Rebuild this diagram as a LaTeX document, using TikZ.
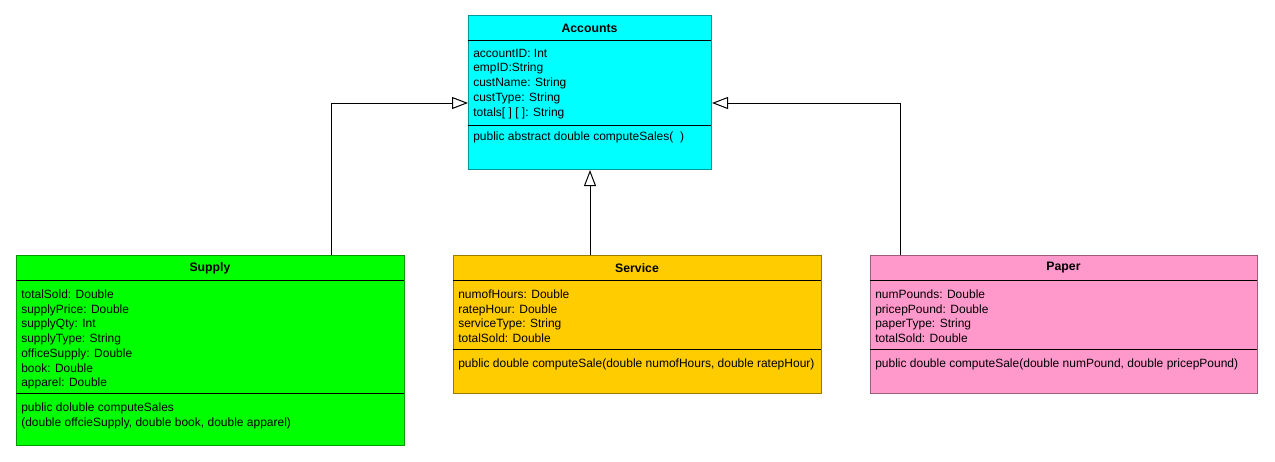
\documentclass[tikz,border=0pt]{standalone}
\usepackage{fontspec}
\setmainfont{Liberation Sans}
\usetikzlibrary{arrows.meta}
\definecolor{accfill}{RGB}{0,255,255}
\definecolor{supfill}{RGB}{0,255,0}
\definecolor{serfill}{RGB}{255,204,0}
\definecolor{papfill}{RGB}{255,153,204}
\begin{document}
\begin{tikzpicture}[x=0.75pt,y=0.75pt,yscale=-1,xscale=1,
            classbox/.style={rectangle,inner sep=0,line width=0.75pt,anchor=north west},
            classname/.style={font=\fontsize{9.2}{11}\selectfont\bfseries,inner sep=0},
            members/.style={font=\fontsize{9}{11.06}\selectfont,align=left,anchor=north west,inner sep=0},
            inherit/.style={line width=0.75pt,-{Triangle[open,length=12pt,width=9pt]}}]
            \useasboundingbox (0,0) rectangle (1275,461);
            \node[classbox,fill=accfill,draw=accfill!60!black,minimum width=182.25pt,minimum height=115.5pt] (accounts) at (468,15) {};
            \node[classname] (accname) at (589.5,28) {Accounts};
            \draw (468,40) -- (711,40);
            \node[members] (accattr) at (473,48.5) {accountID: Int\\empID:String\\custName: String\\custType: String\\totals[ ] [ ]: String};
            \draw (468,125) -- (711,125);
            \node[members] (accops) at (473,131.5) {public abstract double computeSales(\ \ )};
            \node[classbox,fill=supfill,draw=supfill!60!black,minimum width=291pt,minimum height=142.5pt] (supply) at (16,255) {};
            \node[classname] (supname) at (210,268) {Supply};
            \draw (16,280) -- (404,280);
            \node[members] (supattr) at (21,289.5) {totalSold: Double\\supplyPrice: Double\\supplyQty: Int\\supplyType: String\\officeSupply: Double\\book: Double\\apparel: Double};
            \draw (16,393) -- (404,393);
            \node[members] (supops) at (21,402.5) {public doluble computeSales\\(double offcieSupply, double book, double apparel)};
            \node[classbox,fill=serfill,draw=serfill!60!black,minimum width=276pt,minimum height=103.5pt] (service) at (453,255) {};
            \node[classname] (sername) at (637,268) {Service};
            \draw (453,280) -- (821,280);
            \node[members] (serattr) at (458,289.5) {numofHours: Double\\ratepHour: Double\\serviceType: String\\totalSold: Double};
            \draw (453,349) -- (821,349);
            \node[members] (serops) at (458,358.5) {public double computeSale(double numofHours, double ratepHour)};
            \node[classbox,fill=papfill,draw=papfill!60!black,minimum width=290.25pt,minimum height=103.5pt] (paper) at (870,255) {};
            \node[classname] (papname) at (1063.5,268) {Paper};
            \draw (870,280) -- (1257,280);
            \node[members] (papattr) at (875,289.5) {numPounds: Double\\pricepPound: Double\\paperType: String\\totalSold: Double};
            \draw (870,349) -- (1257,349);
            \node[members] (papops) at (875,358.5) {public double computeSale(double numPound, double pricepPound)};
            \draw[inherit] (supply.north -| 331,0) |- (accounts.west |- 0,103);
            \draw[inherit] (accounts.south |- service.north) -- (accounts.south);
            \draw[inherit] (paper.north -| 900,0) |- (accounts.east |- 0,103);
\end{tikzpicture}
\end{document}
